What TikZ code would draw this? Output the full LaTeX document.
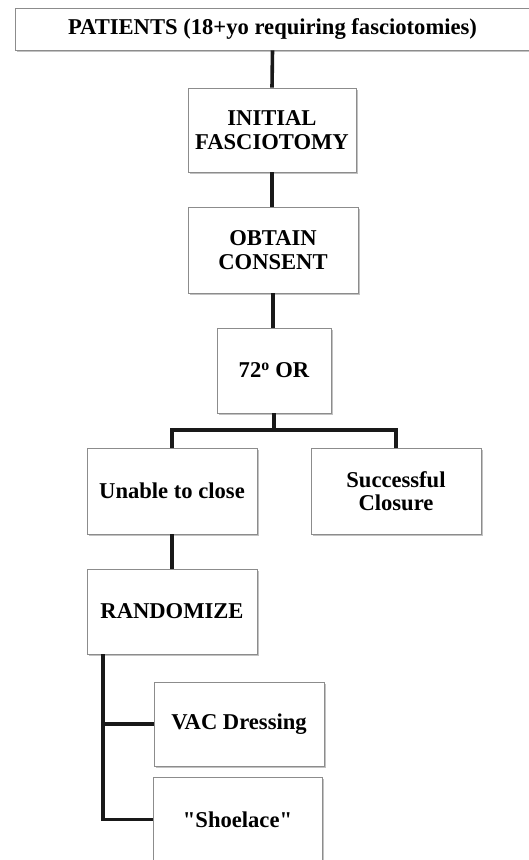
\documentclass[tikz,border=0pt]{standalone}
\usepackage{fontspec}
\setmainfont{Liberation Serif}
\usepackage{tikz}
\usetikzlibrary{positioning, calc, shadows}

\begin{document}
\begin{tikzpicture}[
    x=1pt, y=-1pt,
    flowbox/.style={draw=black!45, line width=0.8pt, fill=white, align=center,
        font=\fontsize{22.6}{23.5}\selectfont\bfseries, inner sep=2pt,
        drop shadow={shadow xshift=1.5pt, shadow yshift=-1.8pt, fill=black!40, opacity=0.6}},
    link/.style={line width=3.6pt, draw=black!90}
]
    \useasboundingbox (0,0) rectangle (528,860);

    % Main line
    \node[flowbox, minimum width=515pt, minimum height=42pt] (patients) at (272.5,29) {PATIENTS (18+yo requiring fasciotomies)};
    \node[flowbox, minimum width=168pt, minimum height=84pt] (initial) at (272,130) {INITIAL\\FASCIOTOMY};
    \node[flowbox, minimum width=170pt, minimum height=86pt] (consent) at (273,250) {OBTAIN\\CONSENT};
    \node[flowbox, minimum width=114pt, minimum height=85pt] (or) at (274,370.5) {72\textsuperscript{o} OR};

    \draw[link] (patients.south) -- (initial.north);
    \draw[link] (initial.south) -- (initial.south |- consent.north);
    \draw[link] (consent.south) -- (consent.south |- or.north);

    % Outcome of the 72 hour OR
    \node[flowbox, minimum width=170pt, minimum height=86pt] (unable) at (172,491) {Unable to close};
    \node[flowbox, minimum width=170pt, minimum height=86pt] (success) at (396,491) {Successful\\Closure};

    \coordinate (split) at (274,430);
    \draw[link] (or.south) -- (split) -| (unable.north);
    \draw[link] (split) -| (success.north);

    % Randomization
    \node[flowbox, minimum width=170pt, minimum height=85pt] (randomize) at (172,611.5) {RANDOMIZE};
    \draw[link] (unable.south) -- (randomize.north);

    \node[flowbox, minimum width=170pt, minimum height=84pt] (vac) at (239,724) {VAC Dressing};
    \node[flowbox, minimum width=169pt, minimum height=85pt] (shoelace) at (237.5,819.5) {\textquotedbl Shoelace\textquotedbl};

    \coordinate (spine) at (103,654);
    \draw[link] (spine) |- (vac.west);
    \draw[link] (spine) |- (shoelace.west);
\end{tikzpicture}
\end{document}
